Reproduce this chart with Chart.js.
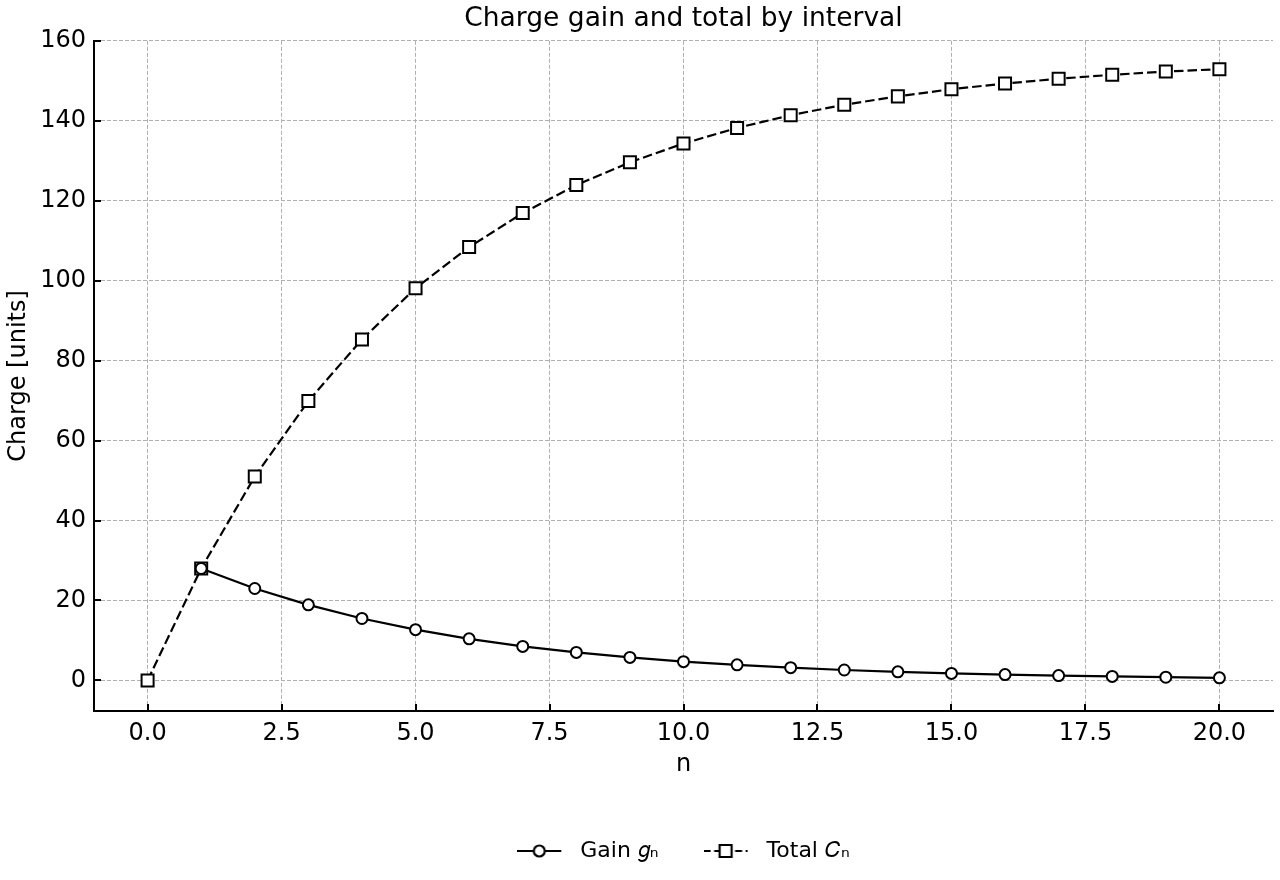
<!DOCTYPE html>
<html>
<head>
<meta charset="utf-8">
<script src="https://cdn.jsdelivr.net/npm/chart.js@4.4.1/dist/chart.umd.min.js"></script>
<style>
  html, body { margin: 0; padding: 0; background: #fff; }
  #wrap { width: 1280px; height: 880px; }
</style>
</head>
<body>
<div id="wrap"><canvas id="chart" width="1280" height="880"></canvas></div>
<script>
// values
const nValues = [0, 1, 2, 3, 4, 5, 6, 7, 8, 9, 10, 11, 12, 13, 14, 15, 16, 17, 18, 19, 20];
const gainValues = [null, 28.0, 23.0, 18.9, 15.5, 12.7, 10.4, 8.5, 7.0, 5.75, 4.7, 3.9, 3.2, 2.6, 2.15, 1.75, 1.45, 1.2, 1.0, 0.8, 0.65];
const totalValues = [0, 28.0, 51.0, 69.9, 85.3, 98.1, 108.4, 116.9, 123.9, 129.6, 134.3, 138.2, 141.4, 144.0, 146.1, 147.9, 149.3, 150.5, 151.5, 152.3, 152.9];
const xTicks = [0, 2.5, 5, 7.5, 10, 12.5, 15, 17.5, 20];
const yTicks = [0, 20, 40, 60, 80, 100, 120, 140, 160];

const FONT = "'DejaVu Sans', sans-serif";
const DASH = [9.5, 4];

// small line+marker images for the legend
function legendIcon(marker, dashed) {
    const c = document.createElement('canvas');
    c.width = 52; c.height = 18;
    const g = c.getContext('2d');
    g.strokeStyle = '#000';
    g.lineWidth = 2.2;
    if (dashed) g.setLineDash([7, 3.5]);
    g.beginPath(); g.moveTo(0, 9); g.lineTo(44, 9); g.stroke();
    g.setLineDash([]);
    g.fillStyle = '#fff';
    g.beginPath();
    if (marker === 'circle') g.arc(22, 9, 5.5, 0, Math.PI * 2);
    else g.rect(16, 3, 12, 12);
    g.fill(); g.stroke();
    return c;
}

// matplotlib-style inward ticks
const inwardTicks = {
    id: 'inwardTicks',
    afterDraw(chart) {
        const {ctx, chartArea, scales} = chart;
        ctx.save();
        ctx.strokeStyle = '#000';
        ctx.lineWidth = 2;
        ctx.beginPath();
        yTicks.forEach(v => {
            const y = Math.round(scales.y.getPixelForValue(v));
            ctx.moveTo(chartArea.left, y); ctx.lineTo(chartArea.left + 7, y);
        });
        xTicks.forEach(v => {
            const x = Math.round(scales.x.getPixelForValue(v));
            ctx.moveTo(x, chartArea.bottom); ctx.lineTo(x, chartArea.bottom - 7);
        });
        ctx.stroke();
        ctx.restore();
    }
};

const ctx = document.getElementById('chart').getContext('2d');
new Chart(ctx, {
    type: 'line',
    data: {
        datasets: [{
            label: 'Gain 𝑔ₙ',
            data: nValues.map((n, i) => ({x: n, y: gainValues[i]})),
            borderColor: '#000',
            borderWidth: 2.2,
            pointStyle: 'circle',
            pointRadius: 5.5,
            pointBorderWidth: 2,
            pointBackgroundColor: '#fff',
            pointBorderColor: '#000',
            spanGaps: false
        }, {
            label: 'Total 𝐶ₙ',
            data: nValues.map((n, i) => ({x: n, y: totalValues[i]})),
            borderColor: '#000',
            borderWidth: 2.2,
            borderDash: DASH,
            pointStyle: 'rect',
            pointRadius: 8.5,
            pointBorderWidth: 2,
            pointBackgroundColor: '#fff',
            pointBorderColor: '#000'
        }]
    },
    options: {
        responsive: false,
        animation: false,
        layout: { autoPadding: false, padding: { top: 0, left: 0, right: 7, bottom: 8 } },
        plugins: {
            title: {
                display: true,
                fullSize: false,
                text: 'Charge gain and total by interval',
                color: '#000',
                font: { family: FONT, size: 26.5, weight: 'normal' },
                padding: { top: 3, bottom: 6 }
            },
            legend: {
                position: 'bottom',
                fullSize: false,
                labels: {
                    color: '#000',
                    font: { family: FONT, size: 22 },
                    usePointStyle: true,
                    pointStyleWidth: 52,
                    padding: 45,
                    generateLabels(chart) {
                        return chart.data.datasets.map((ds, i) => ({
                            text: ds.label,
                            datasetIndex: i,
                            fillStyle: '#fff',
                            strokeStyle: '#000',
                            lineWidth: 0,
                            fontColor: '#000',
                            pointStyle: legendIcon(i === 0 ? 'circle' : 'square', i === 1)
                        }));
                    }
                }
            },
            tooltip: { enabled: false }
        },
        scales: {
            x: {
                type: 'linear',
                min: -1,
                max: 21,
                afterBuildTicks: s => { s.ticks = xTicks.map(v => ({value: v})); },
                afterFit: s => { s.height = 84; s.paddingLeft = 0; s.paddingRight = 0; },
                ticks: {
                    color: '#000',
                    font: { family: FONT, size: 24 },
                    padding: 8,
                    maxRotation: 0,
                    callback: v => v.toFixed(1)
                },
                grid: { color: '#b0b0b0', lineWidth: 1, drawTicks: false },
                border: { display: true, color: '#000', width: 2, dash: [4, 2] },
                title: {
                    display: true,
                    text: 'n',
                    color: '#000',
                    font: { family: FONT, size: 24 },
                    padding: { top: 4, bottom: 15.6 }
                }
            },
            y: {
                type: 'linear',
                min: -7.65,
                max: 160,
                afterBuildTicks: s => { s.ticks = yTicks.map(v => ({value: v})); },
                afterFit: s => { s.width = 94; },
                ticks: {
                    color: '#000',
                    font: { family: FONT, size: 24 },
                    padding: 8
                },
                grid: { color: '#b0b0b0', lineWidth: 1, drawTicks: false },
                border: { display: true, color: '#000', width: 2, dash: [4, 2] },
                title: {
                    display: true,
                    text: 'Charge [units]',
                    color: '#000',
                    font: { family: FONT, size: 24 },
                    padding: { top: 4, bottom: 0 }
                }
            }
        }
    },
    plugins: [inwardTicks]
});
</script>
</body>
</html>
